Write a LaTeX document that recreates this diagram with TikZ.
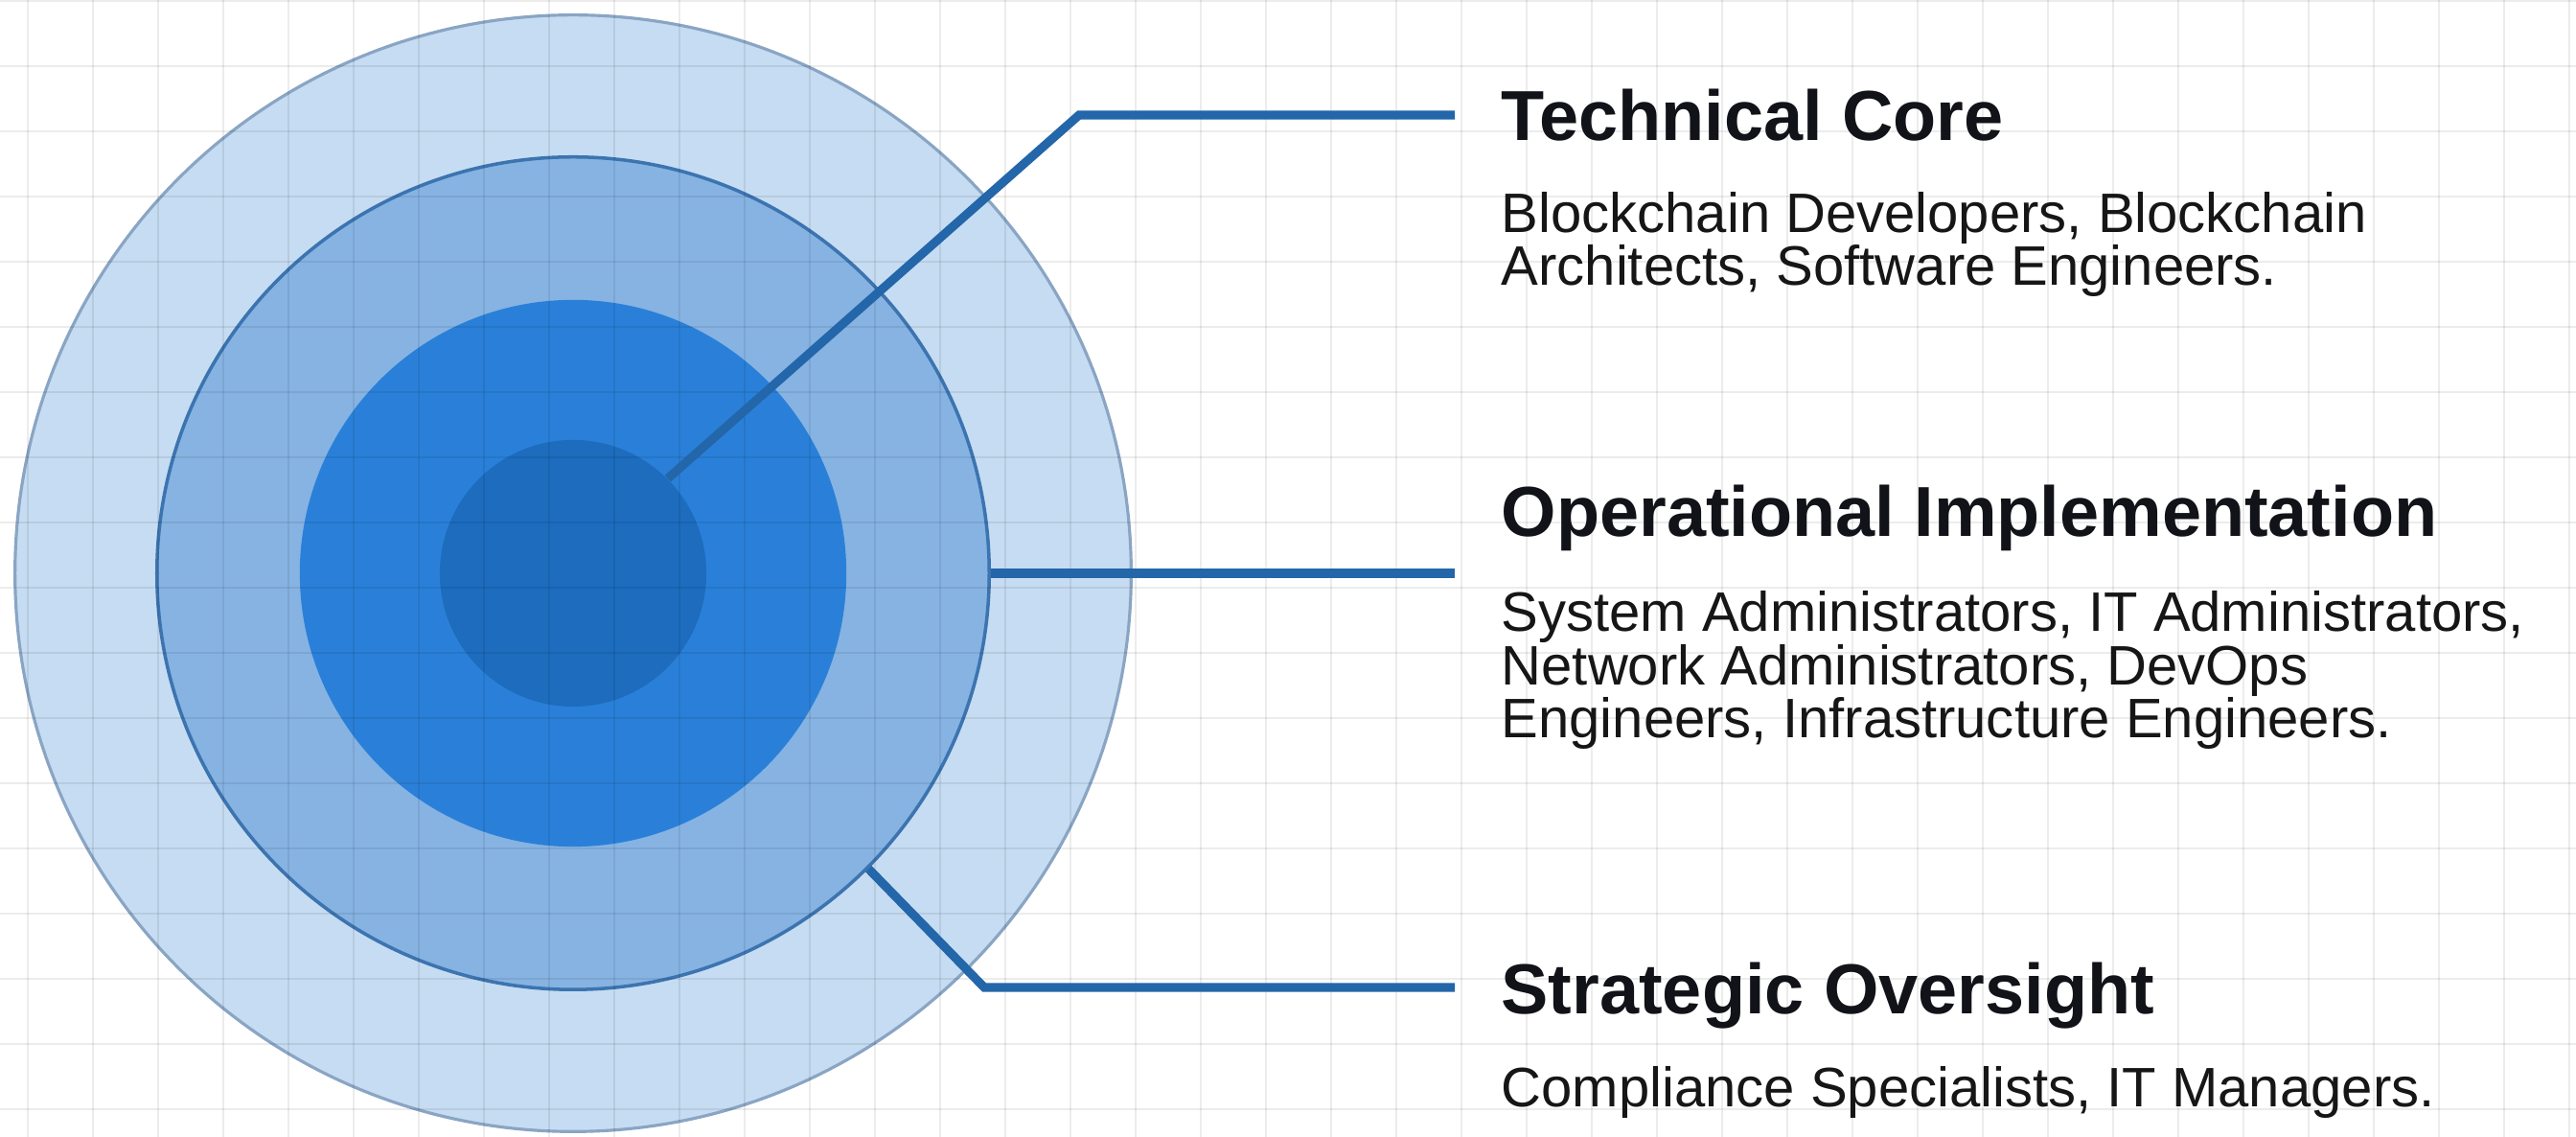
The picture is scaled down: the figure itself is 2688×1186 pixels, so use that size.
\documentclass[tikz,border=0pt]{standalone}
\usepackage{fontspec}
\setmainfont{Liberation Sans}
\usetikzlibrary{math}
\definecolor{ringout}{HTML}{C6DCF2}
\definecolor{edgeout}{HTML}{8AA5C4}
\definecolor{ringmid}{HTML}{86B3E2}
\definecolor{edgemid}{HTML}{3C74B0}
\definecolor{ringin}{HTML}{2A80D8}
\definecolor{ringcore}{HTML}{1D6CBE}
\definecolor{linkblue}{HTML}{2366A9}
\definecolor{inkblack}{HTML}{111318}
\definecolor{inkgray}{HTML}{161616}

\begin{document}
\begin{tikzpicture}[x=0.01cm, y=0.01cm,
    ring/.style={circle, inner sep=0pt},
    link/.style={draw=linkblue, line width=2.6pt, line join=miter},
    heading/.style={anchor=base west, inner sep=0pt, text=inkblack, font=\fontsize{21}{25}\selectfont\bfseries},
    roles/.style={anchor=base west, inner sep=0pt, align=left, text=inkgray, font=\fontsize{16.5}{15.8}\selectfont}]
  \tikzmath{\cx = 598; \cy = 588; \tx = 1566; \ex = 1518;}
  \useasboundingbox[fill=white] (0,0) rectangle (2688,1186);
  % rings
  \node[ring, minimum size=11.64cm, fill=ringout, draw=edgeout, line width=0.9pt] (outer) at (\cx,\cy) {};
  \node[ring, minimum size=8.68cm, fill=ringmid, draw=edgemid, line width=1pt] (middle) at (\cx,\cy) {};
  \node[ring, minimum size=5.70cm, fill=ringin] (inner) at (\cx,\cy) {};
  \node[ring, minimum size=2.78cm, fill=ringcore] (core) at (\cx,\cy) {};
  % grid
  \foreach \gx in {29,97,...,2688}
    \draw[black, opacity=0.075, line width=0.5pt] (\gx,0) -- (\gx,1186);
  \foreach \gy in {1185,1117,...,0}
    \draw[black, opacity=0.075, line width=0.5pt] (0,\gy) -- (2688,\gy);
  % labels (roles: base = last line)
  \node[heading] (tech) at (\tx,1039) {Technical Core};
  \node[roles] (techroles) at (\tx,888) {Blockchain Developers, Blockchain\\Architects, Software Engineers.};
  \node[heading] (ops) at (\tx,626) {Operational Implementation};
  \node[roles] (opsroles) at (\tx,416) {System Administrators, IT Administrators,\\Network Administrators, DevOps\\Engineers, Infrastructure Engineers.};
  \node[heading] (strat) at (\tx,128) {Strategic Oversight};
  \node[roles] (stratroles) at (\tx,31) {Compliance Specialists, IT Managers.};
  % connectors
  \coordinate (techbend) at (1126,1066);
  \coordinate (techend) at (\ex,1066);
  \draw[link] (core.45) -- (techbend) -- (techend);
  \coordinate (opsend) at (\ex,\cy);
  \draw[link] (middle.east) -- (opsend);
  \coordinate (stratbend) at (1027,156);
  \coordinate (stratend) at (\ex,156);
  \draw[link] (middle.-45) -- (stratbend) -- (stratend);
\end{tikzpicture}
\end{document}
